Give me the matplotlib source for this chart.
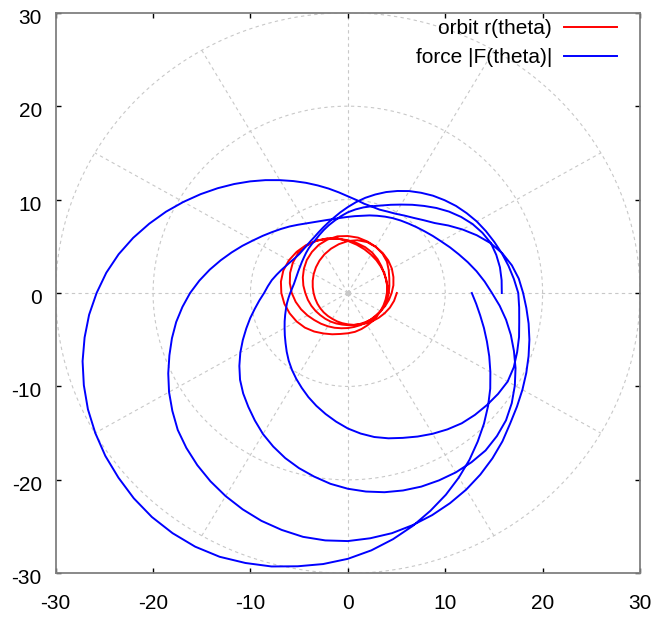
import numpy as np
import matplotlib.pyplot as plt
import matplotlib.transforms as mtransforms

plt.rcParams['font.family'] = ['Liberation Sans', 'DejaVu Sans']
plt.rcParams['axes.unicode_minus'] = False

# |F(theta)| every 5 degrees (0..360), one list per revolution
force_rev1 = [15.81, 15.85, 15.86, 15.78, 15.63, 15.25, 14.78, 14.2, 13.56, 12.87,
              12.17, 11.53, 10.93, 10.42, 9.97, 9.62, 9.31, 8.98, 8.64, 8.25,
              7.86, 7.52, 7.19, 6.88, 6.6, 6.42, 6.25, 6.07, 5.9, 5.77,
              5.66, 5.6, 5.56, 5.57, 5.62, 5.75, 5.92, 6.12, 6.35, 6.58,
              6.85, 7.16, 7.5, 7.9, 8.35, 8.88, 9.45, 10.02, 10.6, 11.2,
              11.85, 12.5, 13.15, 13.82, 14.5, 15.1, 15.65, 16.1, 16.5, 16.95,
              17.4, 17.82, 18.2, 18.45, 18.65, 18.83, 18.95, 18.8, 18.5, 18.2,
              17.87, 17.66, 17.5]
force_rev2 = [17.5, 17.12, 16.75, 16.38, 16.0, 15.65, 15.3, 14.9, 14.5, 14.05,
              13.6, 13.1, 12.6, 12.05, 11.5, 10.92, 10.35, 9.77, 9.2, 8.68,
              8.2, 7.8, 7.45, 7.15, 6.9, 6.73, 6.6, 6.52, 6.5, 6.58,
              6.75, 6.97, 7.25, 7.57, 7.93, 8.25, 8.6, 9.12, 9.7, 10.38,
              11.1, 11.9, 12.75, 13.6, 14.45, 15.2, 15.9, 16.65, 17.43, 18.13,
              18.8, 19.4, 19.95, 20.5, 20.95, 21.33, 21.65, 21.88, 22.05, 22.13,
              22.17, 22.12, 22.0, 21.65, 21.2, 20.55, 19.8, 19.0, 18.15, 17.33,
              16.5, 15.65, 14.8]
force_rev3 = [14.8, 14.1, 13.42, 12.75, 12.12, 11.57, 11.06, 10.65, 10.28, 9.97,
              9.7, 9.47, 9.25, 9.02, 8.8, 8.6, 8.4, 8.26, 8.15, 8.08,
              8.05, 8.1, 8.2, 8.37, 8.6, 8.92, 9.3, 9.7, 10.15, 10.67,
              11.25, 11.95, 12.7, 13.52, 14.4, 15.3, 16.2, 17.05, 17.9, 18.7,
              19.5, 20.35, 21.2, 22.0, 22.8, 23.45, 24.05, 24.6, 25.1, 25.55,
              25.95, 26.25, 26.5, 26.58, 26.55, 26.35, 26.1, 25.72, 25.3, 24.82,
              24.3, 23.72, 23.1, 22.45, 21.75, 21.2, 20.7, 20.22, 19.75, 19.3,
              18.85, 18.4, 18.0]
force_rev4 = [18.0, 17.62, 17.1, 16.42, 15.6, 14.62, 13.6, 12.6, 11.65, 11.02,
              10.5, 10.12, 9.8, 9.62, 9.5, 9.57, 9.7, 10.0, 10.35, 10.82,
              11.35, 11.92, 12.55, 13.22, 13.95, 14.75, 15.6, 16.5, 17.45, 18.45,
              19.5, 20.6, 21.7, 22.82, 23.9, 24.9, 25.8, 26.67, 27.45, 28.2,
              28.85, 29.45, 29.95, 30.4, 30.75, 31.08, 31.3, 31.38, 31.35, 31.15,
              30.75, 30.3, 29.7, 29.12, 28.45, 27.65, 26.75, 25.8, 24.8, 23.82,
              22.8, 21.78, 20.75, 19.77, 18.8, 17.85, 16.9, 16.02, 15.2, 14.47,
              13.8, 13.23, 12.73]

# orbit r(theta) read every 10 degrees (0..360)
orbit_rev1 = [4.15, 4.14, 4.17, 4.3, 4.49, 4.74, 5.0, 5.22, 5.42, 5.65,
              5.9, 6.18, 6.46, 6.69, 6.86, 6.99, 7.05, 6.98, 6.83, 6.62,
              6.36, 6.08, 5.76, 5.38, 5.0, 4.7, 4.45, 4.31, 4.22, 4.1,
              4.0, 3.93, 3.87, 3.86, 3.89, 3.94, 4.01]
orbit_rev2 = [4.01, 4.1, 4.2, 4.3, 4.41, 4.57, 4.75, 4.98, 5.25, 5.57,
              5.92, 6.22, 6.47, 6.6, 6.66, 6.52, 6.31, 6.05, 5.76, 5.44,
              5.11, 4.79, 4.5, 4.29, 4.11, 3.96, 3.83, 3.75, 3.69, 3.67,
              3.66, 3.69, 3.74, 3.88, 4.08, 4.28, 4.5]
orbit_rev3 = [4.5, 4.75, 4.98, 5.22, 5.42, 5.58, 5.72, 5.87, 6.02, 6.1,
              6.16, 6.09, 5.96, 5.74, 5.5, 5.21, 4.92, 4.64, 4.37, 4.17,
              3.99, 3.83, 3.69, 3.6, 3.53, 3.47, 3.43, 3.44, 3.48, 3.53,
              3.6, 3.7, 3.82, 3.91, 4.0, 4.1, 4.2]
orbit_rev4 = [4.2, 4.33, 4.53, 4.85, 5.24, 5.52, 5.71, 5.8, 5.74, 5.56,
              5.31, 5.05, 4.79, 4.53, 4.28, 4.05, 3.84, 3.66, 3.52, 3.41,
              3.33, 3.27, 3.23, 3.2, 3.19, 3.23, 3.28, 3.35, 3.46, 3.59,
              3.75, 3.93, 4.13, 4.35, 4.59, 4.82, 5.03]

grid_radii = [10, 20, 30]
grid_angles = list(range(0, 360, 30))
ticks = [-30, -20, -10, 0, 10, 20, 30]


def join_revs(revs):
    th, rr = [], []
    for k, r in enumerate(revs):
        deg = np.linspace(0, 360, len(r)) + 360 * k
        s = 0 if k == 0 else 1
        th += list(deg[s:])
        rr += r[s:]
    th = np.radians(th)
    rr = np.array(rr)
    return rr * np.cos(th), rr * np.sin(th)


fx, fy = join_revs([force_rev1, force_rev2, force_rev3, force_rev4])
ox, oy = join_revs([orbit_rev1, orbit_rev2, orbit_rev3, orbit_rev4])

fig = plt.figure(figsize=(6.56, 6.21), dpi=100)
ax = fig.add_axes([0.0849, 0.0768, 0.8907, 0.9027])

# gnuplot style polar grid
grid_kw = dict(color='#c8c8c8', lw=0.8, ls=(0, (3, 3)), zorder=1)
t = np.linspace(0, 2 * np.pi, 361)
for r in grid_radii:
    ax.plot(r * np.cos(t), r * np.sin(t), **grid_kw)
for a in np.radians(grid_angles):
    ax.plot([0, 30 * np.cos(a)], [0, 30 * np.sin(a)], **grid_kw)
ax.plot([0], [0], 'o', color='#c8c8c8', ms=3, zorder=1)

ax.plot(ox, oy, color='#ff0000', lw=1.4, label='orbit r(theta)', zorder=3)
ax.plot(fx, fy, color='#0000ff', lw=1.4, label='force |F(theta)|', zorder=3)

ax.set_xlim(-30, 30)
ax.set_ylim(-30, 30)
ax.set_xticks(ticks)
ax.set_yticks(ticks)
ax.tick_params(direction='in', top=True, right=True, length=3.4, width=1,
               labelsize=15, color='black')
ax.tick_params(axis='x', pad=15)
ax.tick_params(axis='y', pad=10)
shift = mtransforms.ScaledTranslation(0, -0.035, fig.dpi_scale_trans)
for lab in ax.get_yticklabels():
    lab.set_transform(lab.get_transform() + shift)
for s in ax.spines.values():
    s.set_color('#808080')
    s.set_linewidth(1.3)

ax.legend(loc='upper right', bbox_to_anchor=(0.961, 0.988), frameon=False,
          markerfirst=False, fontsize=15, handlelength=2.55, handletextpad=0.58,
          labelspacing=0.45, borderaxespad=0, borderpad=0)

fig.savefig('out.png', dpi=100)
